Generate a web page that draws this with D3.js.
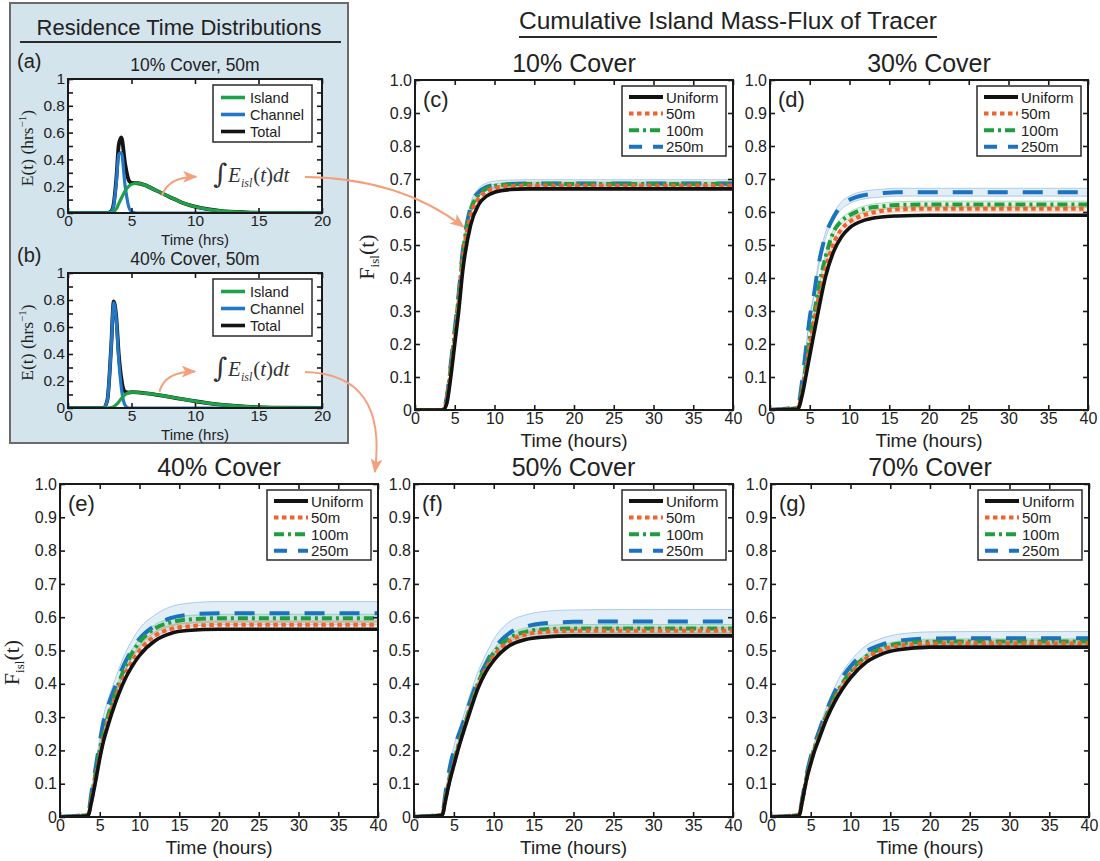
<!DOCTYPE html>
<html>
<head>
<meta charset="utf-8">
<script src="https://cdn.jsdelivr.net/npm/d3@7"></script>
<style>
  body { margin: 0; background: #ffffff; }
  svg { display: block; }
</style>
</head>
<body>
<svg id="fig" width="1100" height="861"></svg>
<script>
// ---------- residence time distributions, E(t) in hrs^-1 ----------
const rtdTime = [0, 2.8, 3.1, 3.4, 3.6, 3.8, 4.0, 4.2, 4.5, 4.8, 5.0, 5.5, 6, 7, 8, 9, 10, 11, 12, 14, 16, 20];

// 10% cover, 50 m
const islandA  = [0, 0, 0, 0.003, 0.01, 0.03, 0.07, 0.11, 0.165, 0.2, 0.215, 0.222, 0.21, 0.165, 0.12, 0.077, 0.047, 0.028, 0.016, 0.005, 0.001, 0];
const channelA = [0, 0, 0, 0.01, 0.06, 0.22, 0.44, 0.45, 0.2, 0.04, 0.01, 0, 0, 0, 0, 0, 0, 0, 0, 0, 0, 0];
const totalA   = [0, 0, 0, 0.013, 0.07, 0.25, 0.51, 0.565, 0.365, 0.24, 0.225, 0.222, 0.21, 0.165, 0.12, 0.077, 0.047, 0.028, 0.016, 0.005, 0.001, 0];

// 40% cover, 50 m
const islandB  = [0, 0, 0, 0.003, 0.01, 0.025, 0.045, 0.07, 0.1, 0.114, 0.117, 0.115, 0.11, 0.098, 0.082, 0.066, 0.05, 0.036, 0.025, 0.01, 0.003, 0];
const channelB = [0, 0, 0.06, 0.45, 0.78, 0.65, 0.35, 0.15, 0.02, 0, 0, 0, 0, 0, 0, 0, 0, 0, 0, 0, 0, 0];
const totalB   = [0, 0, 0.06, 0.453, 0.79, 0.675, 0.395, 0.22, 0.12, 0.114, 0.117, 0.115, 0.11, 0.098, 0.082, 0.066, 0.05, 0.036, 0.025, 0.01, 0.003, 0];

const rtdLegend = ["Island", "Channel", "Total"];
const rtdTicksX = [0, 5, 10, 15, 20];
const rtdTicksY = [0, 0.1, 0.2, 0.3, 0.4, 0.5, 0.6, 0.7, 0.8, 0.9, 1];
const rtdTickLabelsY = ["0", "", "0.2", "", "0.4", "", "0.6", "", "0.8", "", "1"];

// ---------- cumulative island mass flux F_isl(t) ----------
const fluxTime = [0, 3.5, 4, 4.5, 5, 5.5, 6, 7, 8, 9, 10, 12, 14, 16, 20, 25, 30, 40];

const seriesNames = ["Uniform", "50m", "100m", "250m"];
const coverTitles = ["10% Cover", "30% Cover", "40% Cover", "50% Cover", "70% Cover"];
const panelTags = ["(c)", "(d)", "(e)", "(f)", "(g)"];

// 10% cover
const uniform10 = [0, 0, 0.02, 0.1, 0.2, 0.3, 0.42, 0.56, 0.622, 0.648, 0.66, 0.668, 0.67, 0.67, 0.67, 0.67, 0.67, 0.67];
const m50_10    = [0, 0, 0.03, 0.12, 0.22, 0.33, 0.455, 0.59, 0.64, 0.662, 0.672, 0.679, 0.68, 0.68, 0.68, 0.68, 0.68, 0.68];
const m100_10   = [0, 0, 0.035, 0.13, 0.235, 0.345, 0.47, 0.605, 0.652, 0.671, 0.679, 0.684, 0.685, 0.685, 0.685, 0.685, 0.685, 0.685];
const m250_10   = [0, 0, 0.04, 0.14, 0.245, 0.355, 0.48, 0.615, 0.66, 0.676, 0.682, 0.685, 0.686, 0.686, 0.686, 0.686, 0.686, 0.686];
const spread10  = [0.005, 0.006, 0.012];

// 30% cover
const uniform30 = [0, 0.003, 0.04, 0.1, 0.165, 0.228, 0.29, 0.405, 0.48, 0.525, 0.552, 0.576, 0.585, 0.588, 0.59, 0.59, 0.59, 0.59];
const m50_30    = [0, 0.005, 0.05, 0.115, 0.2, 0.262, 0.325, 0.43, 0.505, 0.548, 0.57, 0.592, 0.603, 0.608, 0.61, 0.61, 0.61, 0.61];
const m100_30   = [0, 0.006, 0.058, 0.13, 0.215, 0.285, 0.355, 0.465, 0.54, 0.573, 0.59, 0.61, 0.617, 0.621, 0.623, 0.623, 0.623, 0.623];
const m250_30   = [0, 0.01, 0.08, 0.18, 0.28, 0.345, 0.425, 0.53, 0.585, 0.62, 0.637, 0.652, 0.657, 0.66, 0.66, 0.66, 0.66, 0.66];
const spread30  = [0.008, 0.01, 0.012];

// 40% cover
const uniform40 = [0, 0.004, 0.05, 0.11, 0.175, 0.23, 0.272, 0.345, 0.405, 0.45, 0.485, 0.53, 0.552, 0.56, 0.564, 0.564, 0.564, 0.564];
const m50_40    = [0, 0.004, 0.055, 0.12, 0.185, 0.24, 0.285, 0.36, 0.42, 0.465, 0.5, 0.545, 0.565, 0.572, 0.577, 0.577, 0.577, 0.577];
const m100_40   = [0, 0.006, 0.065, 0.135, 0.2, 0.255, 0.3, 0.375, 0.44, 0.49, 0.525, 0.567, 0.585, 0.593, 0.597, 0.597, 0.597, 0.597];
const m250_40   = [0, 0.008, 0.08, 0.15, 0.225, 0.29, 0.33, 0.395, 0.455, 0.5, 0.535, 0.575, 0.598, 0.607, 0.612, 0.612, 0.612, 0.612];
const spread40  = [0.012, 0.012, 0.035];

// 50% cover
const uniform50 = [0, 0.005, 0.055, 0.11, 0.155, 0.2, 0.24, 0.315, 0.385, 0.435, 0.47, 0.515, 0.533, 0.54, 0.544, 0.544, 0.544, 0.544];
const m50_50    = [0, 0.005, 0.06, 0.115, 0.16, 0.205, 0.245, 0.322, 0.392, 0.445, 0.483, 0.528, 0.548, 0.555, 0.559, 0.559, 0.559, 0.559];
const m100_50   = [0, 0.006, 0.065, 0.12, 0.165, 0.21, 0.25, 0.328, 0.4, 0.455, 0.493, 0.538, 0.556, 0.563, 0.566, 0.566, 0.566, 0.566];
const m250_50   = [0, 0.008, 0.08, 0.15, 0.2, 0.24, 0.272, 0.345, 0.41, 0.46, 0.503, 0.553, 0.572, 0.581, 0.586, 0.587, 0.587, 0.587];
const spread50  = [0.01, 0.012, 0.036];

// 70% cover
const uniform70 = [0, 0.004, 0.055, 0.115, 0.16, 0.2, 0.232, 0.295, 0.345, 0.385, 0.418, 0.465, 0.49, 0.502, 0.51, 0.51, 0.51, 0.51];
const m50_70    = [0, 0.005, 0.058, 0.118, 0.165, 0.205, 0.238, 0.302, 0.353, 0.395, 0.43, 0.477, 0.502, 0.514, 0.521, 0.522, 0.522, 0.522];
const m100_70   = [0, 0.006, 0.06, 0.122, 0.17, 0.21, 0.243, 0.308, 0.36, 0.402, 0.437, 0.483, 0.508, 0.52, 0.526, 0.527, 0.527, 0.527];
const m250_70   = [0, 0.007, 0.065, 0.13, 0.18, 0.22, 0.255, 0.32, 0.375, 0.42, 0.452, 0.497, 0.518, 0.529, 0.536, 0.537, 0.537, 0.537];
const spread70  = [0.008, 0.008, 0.02];

const fluxTicksX = [0, 5, 10, 15, 20, 25, 30, 35, 40];
const fluxTicksY = [0, 0.1, 0.2, 0.3, 0.4, 0.5, 0.6, 0.7, 0.8, 0.9, 1.0];
const fluxTickLabelsY = ["0", "0.1", "0.2", "0.3", "0.4", "0.5", "0.6", "0.7", "0.8", "0.9", "1.0"];

// ---------- styling ----------
const SANS = '"Liberation Sans", Arial, Helvetica, sans-serif';
const SERIF = '"Liberation Serif", "Times New Roman", serif';
const seriesColors = ["#121212", "#f0632b", "#1f9e3f", "#1a72c0"];
const seriesDash = [null, "4.5,3.5", "10,4,3,4", "20,15"];
const legendDash = [null, "4.5,3.5", "10,4,3,4", "13,11"];
const rtdColors = ["#1fa247", "#2278c6", "#141414"];
const arrowColor = "#f5a07c";

const svg = d3.select("#fig");
const defs = svg.append("defs");

// Boxed axes with inward ticks on all four sides
function drawFrame(g, x, y, o) {
  const [x0, x1] = x.range();
  const [yb, yt] = y.range();
  const len = 5;
  const bottom = g.append("g").attr("transform", `translate(0,${yb})`)
    .call(d3.axisBottom(x).tickValues(o.xTicks).tickSize(-len).tickPadding(o.padX).tickFormat(d3.format("d")));
  const top = g.append("g").attr("transform", `translate(0,${yt})`)
    .call(d3.axisTop(x).tickValues(o.xTicks).tickSize(-len).tickFormat(""));
  const left = g.append("g").attr("transform", `translate(${x0},0)`)
    .call(d3.axisLeft(y).tickValues(o.yTicks).tickSize(-len).tickPadding(o.padY).tickFormat((d, i) => o.yLabels[i]));
  const right = g.append("g").attr("transform", `translate(${x1},0)`)
    .call(d3.axisRight(y).tickValues(o.yTicks).tickSize(-len).tickFormat(""));
  [bottom, top, left, right].forEach(a => {
    a.select(".domain").remove();
    a.selectAll(".tick line").attr("stroke", "#1a1a1a").attr("stroke-width", 1.6);
    a.selectAll("text").attr("font-family", SANS).attr("font-size", o.fontSize).attr("fill", "#222");
    a.attr("font-family", null).attr("font-size", null);
  });
  g.append("rect").attr("x", x0).attr("y", yt).attr("width", x1 - x0).attr("height", yb - yt)
    .attr("fill", "none").attr("stroke", "#1a1a1a").attr("stroke-width", 2);
}

let clipCount = 0;
function addClip(x, y) {
  const id = "clip" + (clipCount++);
  const [x0, x1] = x.range();
  const [yb, yt] = y.range();
  defs.append("clipPath").attr("id", id).append("rect")
    .attr("x", x0 - 1).attr("y", yt - 1).attr("width", x1 - x0 + 2).attr("height", yb - yt + 2);
  return "url(#" + id + ")";
}

// ---------- left box: residence time distributions ----------
svg.append("rect").attr("x", 10).attr("y", 3).attr("width", 338).attr("height", 440)
  .attr("fill", "#d4e4ed").attr("stroke", "#6b6b6b").attr("stroke-width", 2);
svg.append("text").attr("x", 179).attr("y", 35).attr("text-anchor", "middle")
  .attr("font-family", SANS).attr("font-size", 22).attr("fill", "#222").text("Residence Time Distributions");
svg.append("line").attr("x1", 20).attr("x2", 341).attr("y1", 42).attr("y2", 42)
  .attr("stroke", "#2a2a2a").attr("stroke-width", 2);

const rtdPanels = [
  { tag: "(a)", title: "10% Cover, 50m", box: [68, 322, 79, 213], series: [islandA, channelA, totalA] },
  { tag: "(b)", title: "40% Cover, 50m", box: [68, 322, 273, 408], series: [islandB, channelB, totalB] }
];

const rtdScales = rtdPanels.map(p => {
  const [x0, x1, yt, yb] = p.box;
  const x = d3.scaleLinear().domain([0, 20]).range([x0, x1]);
  const y = d3.scaleLinear().domain([0, 1]).range([yb, yt]);
  const g = svg.append("g");
  g.append("rect").attr("x", x0).attr("y", yt).attr("width", x1 - x0).attr("height", yb - yt).attr("fill", "#ffffff");

  const clip = addClip(x, y);
  const line = d3.line().x(d => x(d[0])).y(d => y(d[1])).curve(d3.curveMonotoneX);
  // total underneath, then channel, island on top
  [2, 1, 0].forEach(k => {
    g.append("path").datum(rtdTime.map((t, i) => [t, p.series[k][i]]))
      .attr("d", line).attr("fill", "none").attr("clip-path", clip)
      .attr("stroke", rtdColors[k]).attr("stroke-width", k === 2 ? 3.8 : 3.2)
      .attr("stroke-linejoin", "round");
  });

  drawFrame(g, x, y, { xTicks: rtdTicksX, yTicks: rtdTicksY, yLabels: rtdTickLabelsY, fontSize: 15.5, padX: 2, padY: 3 });

  // legend
  const lx = x1 - 109, ly = yt + 6;
  g.append("rect").attr("x", lx).attr("y", ly).attr("width", 99).attr("height", 57)
    .attr("fill", "#ffffff").attr("stroke", "#2a2a2a").attr("stroke-width", 1.5);
  rtdLegend.forEach((name, k) => {
    const yy = ly + 12.5 + k * 17;
    g.append("line").attr("x1", lx + 8).attr("x2", lx + 32).attr("y1", yy).attr("y2", yy)
      .attr("stroke", rtdColors[k]).attr("stroke-width", 3.6);
    g.append("text").attr("x", lx + 37).attr("y", yy + 5).attr("font-family", SANS).attr("font-size", 14.5)
      .attr("fill", "#222").text(name);
  });

  g.append("text").attr("x", 17).attr("y", yt - 11).attr("font-family", SANS).attr("font-size", 20)
    .attr("fill", "#222").text(p.tag);
  g.append("text").attr("x", (x0 + x1) / 2).attr("y", yt - 8).attr("text-anchor", "middle")
    .attr("font-family", SANS).attr("font-size", 17.5).attr("fill", "#222").text(p.title);
  g.append("text").attr("x", (x0 + x1) / 2).attr("y", yb + 32).attr("text-anchor", "middle")
    .attr("font-family", SANS).attr("font-size", 15).attr("fill", "#222").text("Time (hrs)");

  const yl = g.append("text").attr("transform", `translate(33,${(yt + yb) / 2 + 2}) rotate(-90)`)
    .attr("text-anchor", "middle").attr("font-family", SERIF).attr("font-size", 17.5).attr("fill", "#222");
  yl.append("tspan").text("E(t) (hrs");
  yl.append("tspan").attr("font-size", 11).attr("dy", -7).text("−1");
  yl.append("tspan").attr("dy", 7).text(")");

  // integral annotation
  const it = g.append("text").attr("x", 213).attr("y", yt + 103).attr("font-family", SERIF)
    .attr("font-size", 21).attr("fill", "#333");
  it.append("tspan").attr("font-family", '"DejaVu Serif", serif').attr("font-size", 27).attr("dy", 1).text("∫");
  it.append("tspan").attr("font-style", "italic").attr("dy", -1).attr("dx", 1).text("E");
  it.append("tspan").attr("font-style", "italic").attr("font-size", 12).attr("dy", 5).text("isl");
  it.append("tspan").attr("dy", -5).attr("dx", 1).text("(");
  it.append("tspan").attr("font-style", "italic").text("t");
  it.append("tspan").text(")");
  it.append("tspan").attr("font-style", "italic").text("dt");

  return { x, y };
});

// ---------- right side: cumulative mass flux ----------
svg.append("text").attr("x", 519).attr("y", 29).attr("font-family", SANS).attr("font-size", 24.5)
  .attr("fill", "#222").attr("id", "fluxTitle").text("Cumulative Island Mass-Flux of Tracer");
const tb = document.getElementById("fluxTitle").getBBox();
svg.append("line").attr("x1", tb.x).attr("x2", tb.x + tb.width).attr("y1", 37).attr("y2", 37)
  .attr("stroke", "#2a2a2a").attr("stroke-width", 2);

const fluxSeries = [
  [uniform10, m50_10, m100_10, m250_10],
  [uniform30, m50_30, m100_30, m250_30],
  [uniform40, m50_40, m100_40, m250_40],
  [uniform50, m50_50, m100_50, m250_50],
  [uniform70, m50_70, m100_70, m250_70]
];
const fluxSpread = [spread10, spread30, spread40, spread50, spread70];
const fluxBoxes = [
  [415, 733, 80, 410],
  [770, 1088, 80, 410],
  [60, 378, 484, 817],
  [414, 733, 484, 817],
  [771, 1089, 484, 817]
];

const fluxScales = fluxBoxes.map((box, pi) => {
  const [x0, x1, yt, yb] = box;
  const x = d3.scaleLinear().domain([0, 40]).range([x0, x1]);
  const y = d3.scaleLinear().domain([0, 1]).range([yb, yt]);
  const g = svg.append("g");
  const clip = addClip(x, y);
  const series = fluxSeries[pi];

  // uncertainty bands (50m, 100m, 250m)
  [3, 2, 1].forEach(k => {
    const vals = series[k];
    const plateau = vals[vals.length - 1];
    const s = fluxSpread[pi][k - 1] / plateau;
    const pts = fluxTime.map((t, i) => [t, vals[i]]);
    const area = d3.area().x(d => x(d[0])).y0(d => y(d[1] * (1 - s))).y1(d => y(d[1] * (1 + s)))
      .curve(d3.curveMonotoneX);
    g.append("path").datum(pts).attr("d", area).attr("clip-path", clip)
      .attr("fill", seriesColors[k]).attr("fill-opacity", 0.13)
      .attr("stroke", seriesColors[k]).attr("stroke-opacity", 0.3).attr("stroke-width", 1);
  });

  const line = d3.line().x(d => x(d[0])).y(d => y(d[1])).curve(d3.curveMonotoneX);
  [3, 2, 1, 0].forEach(k => {
    const p = g.append("path").datum(fluxTime.map((t, i) => [t, series[k][i]]))
      .attr("d", line).attr("fill", "none").attr("clip-path", clip)
      .attr("stroke", seriesColors[k]).attr("stroke-width", k === 0 ? 3.6 : 4);
    if (seriesDash[k]) p.attr("stroke-dasharray", seriesDash[k]);
  });

  drawFrame(g, x, y, { xTicks: fluxTicksX, yTicks: fluxTicksY, yLabels: fluxTickLabelsY, fontSize: 16, padX: 3, padY: 3 });

  // legend
  const lx = x1 - 111, ly = yt + 6;
  g.append("rect").attr("x", lx).attr("y", ly).attr("width", 104).attr("height", 70)
    .attr("fill", "#ffffff").attr("stroke", "#2a2a2a").attr("stroke-width", 1.5);
  seriesNames.forEach((name, k) => {
    const yy = ly + 11 + k * 16.6;
    const l = g.append("line").attr("x1", lx + 7).attr("x2", lx + 41).attr("y1", yy).attr("y2", yy)
      .attr("stroke", seriesColors[k]).attr("stroke-width", 4);
    if (legendDash[k]) l.attr("stroke-dasharray", legendDash[k]);
    g.append("text").attr("x", lx + 44).attr("y", yy + 5.5).attr("font-family", SANS).attr("font-size", 15)
      .attr("fill", "#222").text(name);
  });

  g.append("text").attr("x", x0 + 8).attr("y", yt + 27).attr("font-family", SANS).attr("font-size", 22)
    .attr("fill", "#222").text(panelTags[pi]);
  g.append("text").attr("x", (x0 + x1) / 2).attr("y", yt - 8).attr("text-anchor", "middle")
    .attr("font-family", SANS).attr("font-size", 25).attr("fill", "#222").text(coverTitles[pi]);
  g.append("text").attr("x", (x0 + x1) / 2).attr("y", yb + 37).attr("text-anchor", "middle")
    .attr("font-family", SANS).attr("font-size", 19).attr("fill", "#222").text("Time (hours)");

  if (pi === 0 || pi === 2) {
    const yl = g.append("text").attr("transform", `translate(${x0 - 41},${(yt + yb) / 2 + 12}) rotate(-90)`)
      .attr("text-anchor", "middle").attr("font-family", SERIF).attr("font-size", 22).attr("fill", "#222");
    yl.append("tspan").text("F");
    yl.append("tspan").attr("font-size", 13).attr("dy", 5).text("isl");
    yl.append("tspan").attr("dy", -5).text("(t)");
  }
  return { x, y };
});

// ---------- connecting arrows ----------
defs.append("marker").attr("id", "head").attr("viewBox", "0 0 12 10").attr("refX", 11).attr("refY", 5)
  .attr("markerUnits", "userSpaceOnUse").attr("markerWidth", 15).attr("markerHeight", 12)
  .attr("orient", "auto")
  .append("path").attr("d", "M0,0 L12,5 L0,10 L3,5 Z").attr("fill", arrowColor);

function arrow(pts) {
  const [a, c, b] = pts;
  svg.append("path").attr("d", `M${a[0]},${a[1]} Q${c[0]},${c[1]} ${b[0]},${b[1]}`)
    .attr("fill", "none").attr("stroke", arrowColor).attr("stroke-width", 2)
    .attr("marker-end", "url(#head)");
}
const ax = rtdScales[0], bx = rtdScales[1], cS = fluxScales[0], eS = fluxScales[2];
// from island curve to integral, panel (a)
arrow([[ax.x(7.4), ax.y(0.13)], [ax.x(7.9), ax.y(0.27)], [ax.x(10.1), ax.y(0.27)]]);
// integral (a) to panel (c) rising limb
arrow([[305, 177], [400, 178], [cS.x(6.1), cS.y(0.555)]]);
// from island curve to integral, panel (b)
arrow([[bx.x(7.2), bx.y(0.12)], [bx.x(7.6), bx.y(0.27)], [bx.x(10.0), bx.y(0.27)]]);
// integral (b) down to panel (e)
arrow([[305, 372], [388, 374], [eS.x(39.6), eS.y(1.0) - 12]]);
</script>
</body>
</html>
